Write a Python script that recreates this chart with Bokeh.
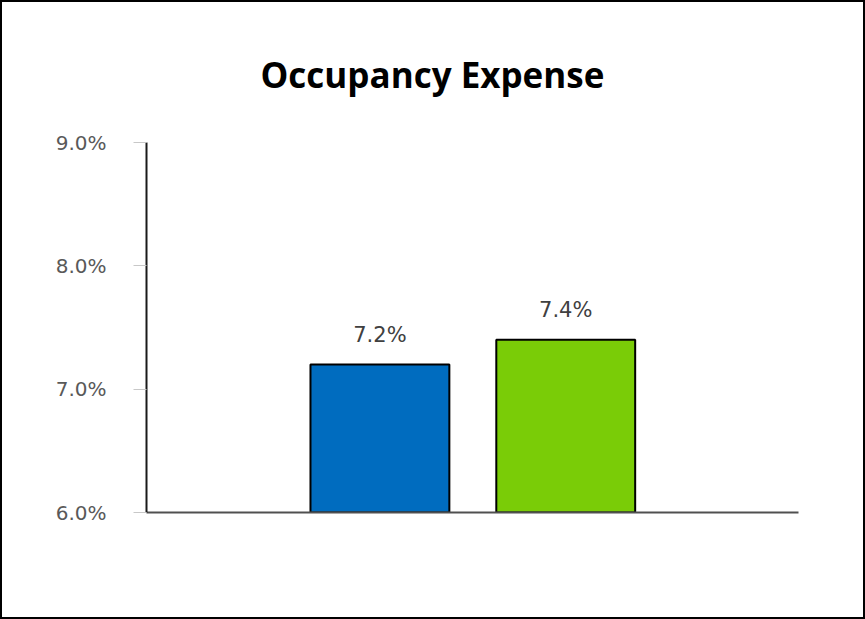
from bokeh.plotting import figure
from bokeh.models import (Range1d, FixedTicker, ColumnDataSource, LabelSet, Title,
                          CustomJSTickFormatter)
from bokeh.core.properties import value
from bokeh.embed import file_html
from bokeh.resources import INLINE

# Data
series = ["Series A", "Series B"]
values = [7.2, 7.4]
positions = [0.358, 0.643]
colors = ["#006CBF", "#7ACC07"]
labels = ["7.2%", "7.4%"]
y_ticks = [6.0, 7.0, 8.0, 9.0]
title_text = "Occupancy Expense"

src = ColumnDataSource(dict(x=positions, top=values, color=colors, label=labels))

p = figure(width=865, height=619, output_backend="svg", toolbar_location=None,
           x_range=Range1d(0, 1), y_range=Range1d(6.0, 9.0),
           min_border_left=144, min_border_right=69, min_border_top=140, min_border_bottom=109)
p.title = None
p.add_layout(Title(text=title_text, align="left", offset=114, standoff=90, vertical_align="bottom",
                   text_font="Open Sans", text_font_size="35px", text_font_style="bold",
                   text_color="#000000"), "above")

p.vbar(x="x", top="top", bottom=6.0, width=0.213, fill_color="color",
       line_color="#000000", line_width=2, source=src)

p.add_layout(LabelSet(x="x", y="top", text="label", source=src, text_align="center",
                      text_baseline="alphabetic", y_offset=23, text_font=value("DejaVu Sans"),
                      text_font_size=value("21px"), text_color="#404040"))

p.grid.visible = False
p.outline_line_color = None
p.background_fill_color = "white"
p.border_fill_color = "white"

ya = p.yaxis[0]
ya.ticker = FixedTicker(ticks=y_ticks)
ya.formatter = CustomJSTickFormatter(code="return tick.toFixed(1) + '%';")
ya.minor_tick_line_color = None
ya.major_tick_out = 13
ya.major_tick_in = 0
ya.major_tick_line_color = "#c8c8c8"
ya.major_tick_line_width = 1
ya.axis_line_color = "#1a1a1a"
ya.axis_line_width = 2
ya.major_label_standoff = 27
ya.major_label_text_font = "DejaVu Sans"
ya.major_label_text_font_size = "20px"
ya.major_label_text_color = "#595959"

xa = p.xaxis[0]
xa.ticker = FixedTicker(ticks=[])
xa.major_label_text_font_size = "0px"
xa.minor_tick_line_color = None
xa.major_tick_line_color = None
xa.axis_line_color = "#505050"
xa.axis_line_width = 2

p.styles = {"border": "2px solid black"}

open("out.html", "w").write(file_html(p, INLINE))
